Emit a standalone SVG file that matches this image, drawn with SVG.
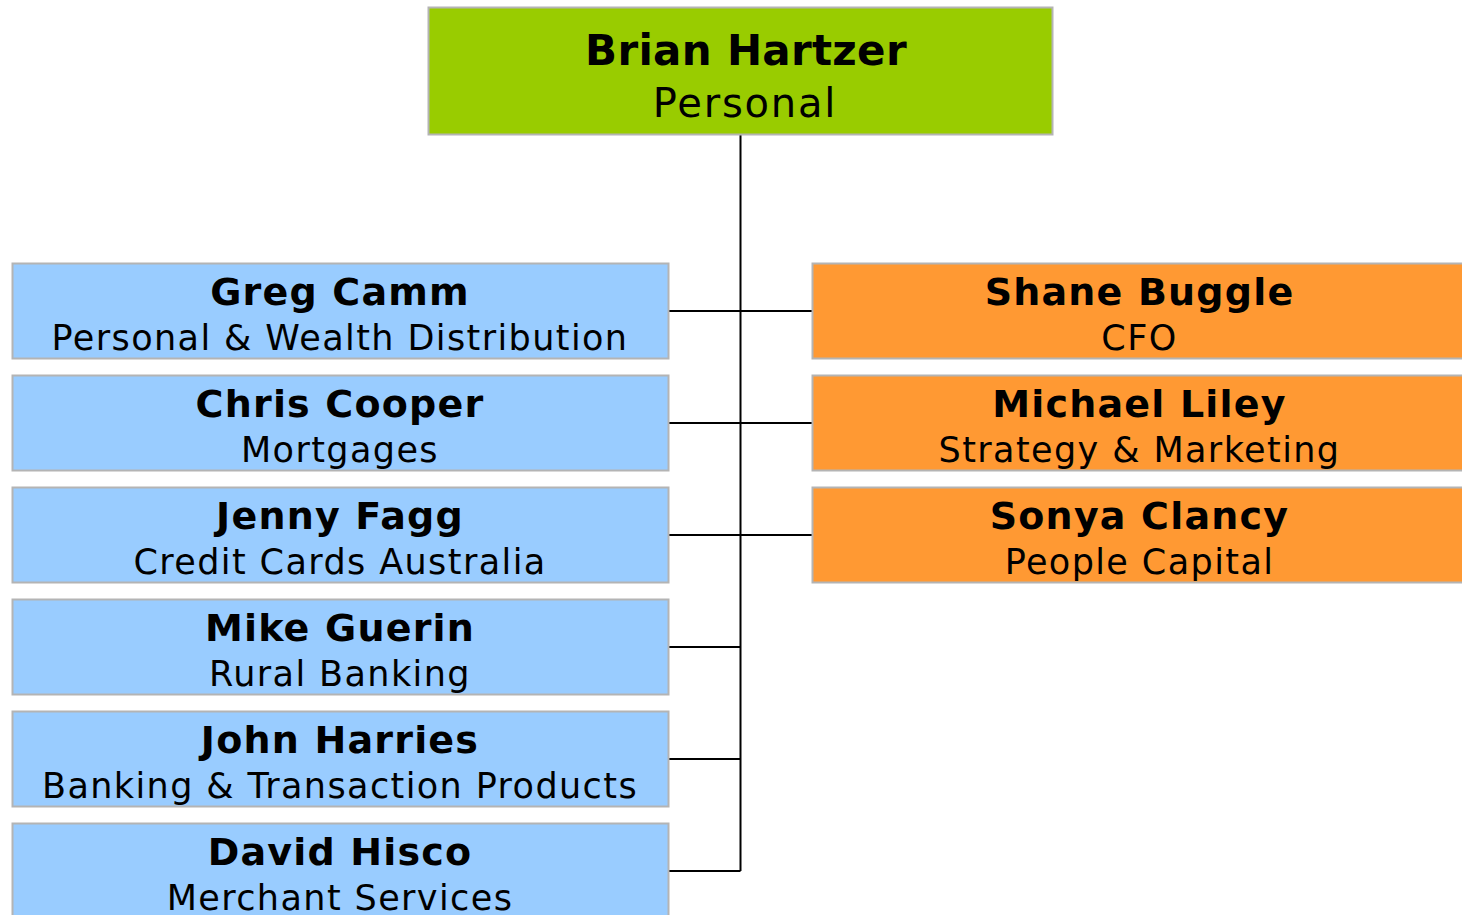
<svg xmlns="http://www.w3.org/2000/svg" width="1462" height="915" viewBox="0 0 1462 915">
  <style>
    .box { stroke: #b4b4b4; stroke-width: 2; }
    .exec { fill: #99cc00; }
    .line { fill: #99ccff; }
    .support { fill: #ff9933; }
    .name { font-family: "DejaVu Sans", Verdana, sans-serif; font-weight: bold; font-size: 38px; letter-spacing: 1.2px; fill: #000; text-anchor: middle; }
    .role { font-family: "DejaVu Sans", Verdana, sans-serif; font-size: 35px; letter-spacing: 1.4px; fill: #000; text-anchor: middle; }
    .top-name { font-size: 42px; letter-spacing: 0.3px; }
    .top-role { font-size: 40px; letter-spacing: 1.8px; }
    .conn { stroke: #000; stroke-width: 2; fill: none; }
  </style>

  <g id="connectors">
    <path class="conn" d="M740.5 135 V871"/>
    <path class="conn" d="M669 311 H740.5 M669 423 H740.5 M669 535 H740.5 M669 647 H740.5 M669 759 H740.5 M669 871 H740.5"/>
    <path class="conn" d="M740.5 311 H812 M740.5 423 H812 M740.5 535 H812"/>
  </g>

  <g id="brian-hartzer">
    <rect class="box exec" x="428.5" y="7.5" width="624" height="127"/>
    <text class="name top-name" x="746" y="65">Brian Hartzer</text>
    <text class="role top-role" x="745" y="117">Personal</text>
  </g>

  <g id="greg-camm">
    <rect class="box line" x="12.5" y="263.5" width="656" height="95"/>
    <text class="name" x="340" y="305">Greg Camm</text>
    <text class="role" x="340" y="350">Personal &amp; Wealth Distribution</text>
  </g>
  <g id="chris-cooper">
    <rect class="box line" x="12.5" y="375.5" width="656" height="95"/>
    <text class="name" x="340" y="417">Chris Cooper</text>
    <text class="role" x="340" y="462">Mortgages</text>
  </g>
  <g id="jenny-fagg">
    <rect class="box line" x="12.5" y="487.5" width="656" height="95"/>
    <text class="name" x="340" y="529">Jenny Fagg</text>
    <text class="role" x="340" y="574">Credit Cards Australia</text>
  </g>
  <g id="mike-guerin">
    <rect class="box line" x="12.5" y="599.5" width="656" height="95"/>
    <text class="name" x="340" y="641">Mike Guerin</text>
    <text class="role" x="340" y="686">Rural Banking</text>
  </g>
  <g id="john-harries">
    <rect class="box line" x="12.5" y="711.5" width="656" height="95"/>
    <text class="name" x="340" y="753">John Harries</text>
    <text class="role" x="340" y="798">Banking &amp; Transaction Products</text>
  </g>
  <g id="david-hisco">
    <rect class="box line" x="12.5" y="823.5" width="656" height="95"/>
    <text class="name" x="340" y="865">David Hisco</text>
    <text class="role" x="340" y="910">Merchant Services</text>
  </g>

  <g id="shane-buggle">
    <rect class="box support" x="812.5" y="263.5" width="652" height="95"/>
    <text class="name" x="1139.5" y="305">Shane Buggle</text>
    <text class="role" x="1139.5" y="350">CFO</text>
  </g>
  <g id="michael-liley">
    <rect class="box support" x="812.5" y="375.5" width="652" height="95"/>
    <text class="name" x="1139.5" y="417">Michael Liley</text>
    <text class="role" x="1139.5" y="462">Strategy &amp; Marketing</text>
  </g>
  <g id="sonya-clancy">
    <rect class="box support" x="812.5" y="487.5" width="652" height="95"/>
    <text class="name" x="1139.5" y="529">Sonya Clancy</text>
    <text class="role" x="1139.5" y="574">People Capital</text>
  </g>
</svg>
